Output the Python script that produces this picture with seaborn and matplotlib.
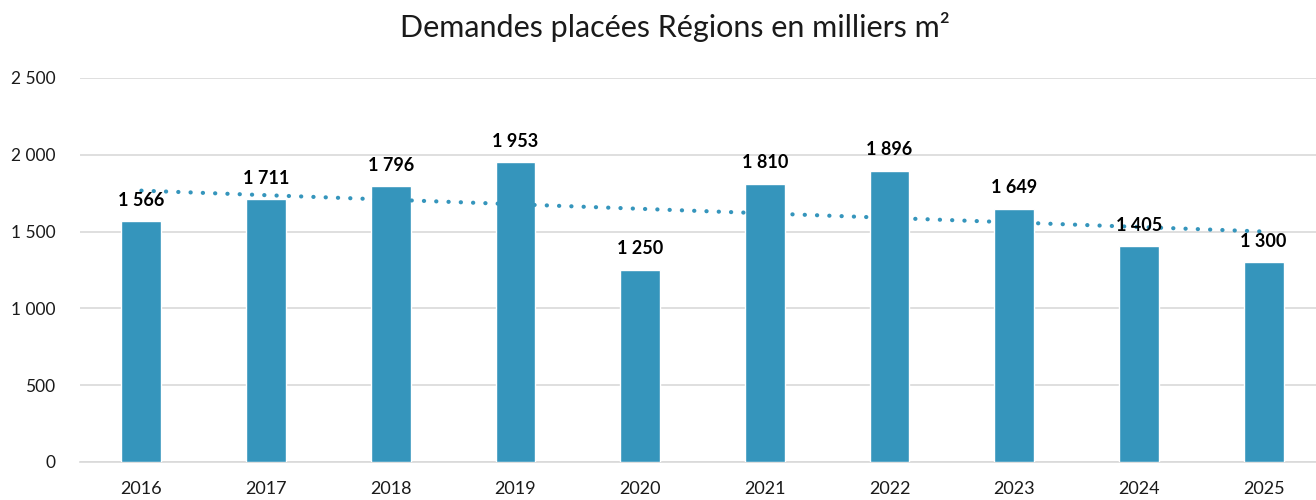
import numpy as np
import pandas as pd
import seaborn as sns
import matplotlib.pyplot as plt

years = ['2016', '2017', '2018', '2019', '2020', '2021', '2022', '2023', '2024', '2025']
demandes = [1566, 1711, 1796, 1953, 1250, 1810, 1896, 1649, 1405, 1300]
y_ticks = [0, 500, 1000, 1500, 2000, 2500]

BLUE = '#3595bc'


def fr_num(v):
    return '{:,}'.format(int(v)).replace(',', ' ')


sns.set_style('white')
plt.rcParams['font.family'] = ['Lato', 'DejaVu Sans']

df = pd.DataFrame({'annee': years, 'demandes': demandes})

fig = plt.figure(figsize=(13.16, 5), dpi=100)
ax = fig.add_axes([0.061, 0.076, 0.939, 0.768])

sns.barplot(data=df, x='annee', y='demandes', color=BLUE, saturation=1,
            width=0.32, ax=ax, zorder=3)

# courbe de tendance lineaire (pointillés)
xs = np.arange(len(years))
coef = np.polyfit(xs, demandes, 1)
ax.plot(xs, np.polyval(coef, xs), linestyle=(0, (0.05, 2.9)), color=BLUE,
        linewidth=3, dash_capstyle='round', zorder=4)

for i, v in enumerate(demandes):
    ax.annotate(fr_num(v), (i, v), xytext=(0, 9), textcoords='offset points',
                ha='center', va='bottom', fontsize=13, fontweight='bold',
                color='black', zorder=5)

ax.set_ylim(0, 2500)
ax.set_xlim(-0.49, 9.42)
ax.set_yticks(y_ticks)
ax.set_yticklabels([fr_num(t) for t in y_ticks], fontsize=12.5, color='#1a1a1a')
ax.set_xticks(xs)
ax.set_xticklabels(years, fontsize=13, color='#1a1a1a')
ax.tick_params(axis='x', length=0, pad=14)
ax.tick_params(axis='y', length=0, pad=18)
ax.yaxis.grid(True, color='#d9d9d9', linewidth=1.2, zorder=0)
ax.set_axisbelow(True)
ax.set_xlabel('')
ax.set_ylabel('')
for side in ['top', 'right', 'left']:
    ax.spines[side].set_visible(False)
ax.spines['bottom'].set_color('#d9d9d9')
ax.spines['bottom'].set_linewidth(1.2)

fig.suptitle('Demandes placées Régions en milliers m²', fontsize=22,
             color='#1a1a1a', y=0.975, x=0.513)

fig.savefig('out.png', dpi=100)
